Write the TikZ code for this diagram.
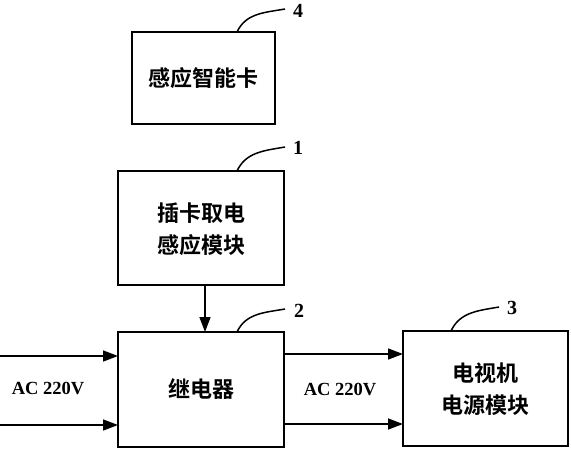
\documentclass[tikz,border=0pt]{standalone}
\usepackage{fontspec}
\setmainfont{Liberation Serif}
\newfontfamily\cjk{Noto Sans CJK SC}[BoldFont={Noto Sans CJK SC Bold}]
\usetikzlibrary{arrows.meta}
\begin{document}
\begin{tikzpicture}[x=1pt,y=-1pt,
  blk/.style={draw,line width=1.6pt,inner sep=0pt},
  cn/.style={font=\cjk\bfseries\fontsize{22}{32}\selectfont,align=center},
  ac/.style={font=\bfseries\fontsize{18.5}{20}\selectfont},
  num/.style={font=\bfseries\fontsize{20}{22}\selectfont},
  arr/.style={line width=1.5pt,-{Triangle[length=15pt,width=11pt]}},
  lead/.style={line width=1.5pt}]
\useasboundingbox (0,0) rectangle (571,450);
% boxes
\draw[blk] (132,32) rectangle (275,124);
\node[cn] (card) at (203.5,78) {感应智能卡};
\draw[blk] (118,171) rectangle (284,285);
\node[cn] (mod) at (201,229) {插卡取电\\感应模块};
\draw[blk] (118,332) rectangle (284,447);
\node[cn] (relay) at (201,389) {继电器};
\draw[blk] (403,331) rectangle (568,446);
\node[cn] (tv) at (485.5,389) {电视机\\电源模块};
% coordinates
\coordinate (m1) at (205,285);
\coordinate (r1) at (205,332);
\coordinate (la) at (0,356);
\coordinate (lb) at (0,425);
\coordinate (ra) at (118,356);
\coordinate (rb) at (118,425);
\coordinate (sa) at (284,354);
\coordinate (sb) at (284,424);
\coordinate (ta) at (403,354);
\coordinate (tb) at (403,424);
\draw[arr] (m1) -- (r1);
\draw[arr] (la) -- (ra);
\draw[arr] (lb) -- (rb);
\draw[arr] (sa) -- (ta);
\draw[arr] (sb) -- (tb);
\node[ac] (acl) at (48,388) {AC 220V};
\node[ac] (acr) at (340,389) {AC 220V};
% leaders
\coordinate (c4) at (237,32);
\coordinate (e4) at (285,9);
\draw[lead] (c4) to[out=65,in=190] (e4);
\node[num] (n4) at (298,11) {4};
\coordinate (c1) at (237,171);
\coordinate (e1) at (285,147);
\draw[lead] (c1) to[out=65,in=190] (e1);
\node[num] (n1) at (298,148) {1};
\coordinate (c2) at (237,332);
\coordinate (e2) at (285,309);
\draw[lead] (c2) to[out=65,in=190] (e2);
\node[num] (n2) at (299,311) {2};
\coordinate (c3) at (451,331);
\coordinate (e3) at (499,307);
\draw[lead] (c3) to[out=65,in=190] (e3);
\node[num] (n3) at (512,308) {3};
\end{tikzpicture}
\end{document}
